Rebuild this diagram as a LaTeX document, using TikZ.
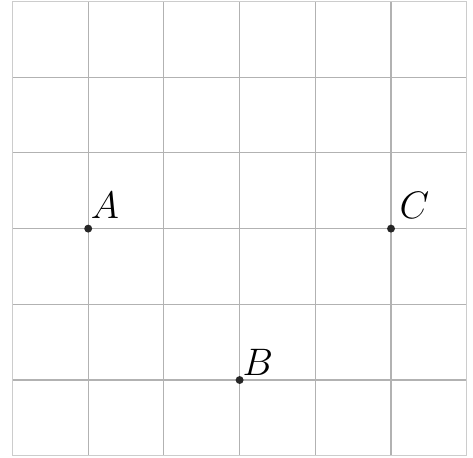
\documentclass[tikz,border=0pt]{standalone}
\begin{document}
\begin{tikzpicture}[x=1cm,y=1cm,
  gridline/.style={draw=black!30, line width=0.4pt},
  border/.style={draw=black!20, line width=0.5pt},
  pt/.style={circle, fill=black!85, inner sep=0pt, minimum size=0.105cm},
  lab/.style={inner sep=0pt, font=\fontsize{15}{16}\selectfont}]
\useasboundingbox (-0.165,-0.026) rectangle (6.083,6.02);
\foreach \i in {1,...,5} {
  \draw[gridline] (\i,0) -- (\i,6);
  \draw[gridline] (0,\i) -- (6,\i);
}
\draw[border] (0,0) rectangle (6,6);
\node[pt] (A) at (1,3) {};
\node[pt] (B) at (3,1) {};
\node[pt] (C) at (5,3) {};
\node[lab] (la) at ([shift={(0.22,0.31)}]A.center) {$A$};
\node[lab] (lb) at ([shift={(0.24,0.23)}]B.center) {$B$};
\node[lab] (lc) at ([shift={(0.31,0.30)}]C.center) {$C$};
\end{tikzpicture}
\end{document}
